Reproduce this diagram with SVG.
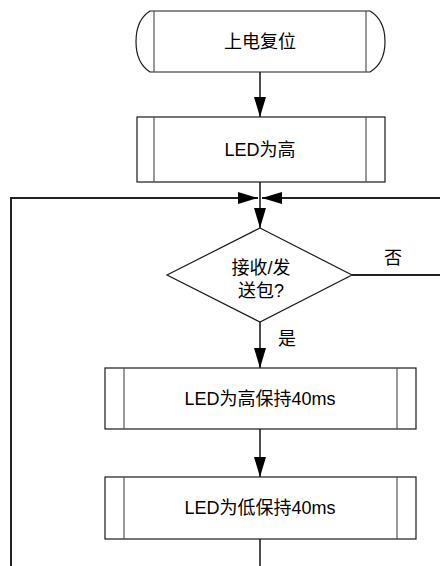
<svg xmlns="http://www.w3.org/2000/svg" width="440" height="566" viewBox="0 0 440 566">
<style>
.box{fill:#fff;stroke:#1a1a1a;stroke-width:1.2}
.inner{stroke:#555;stroke-width:1.2;fill:none}
.lbl{font-family:"Liberation Sans","Noto Sans CJK SC",sans-serif;font-size:18px;fill:#000;text-anchor:middle}
.con{stroke:#111;stroke-width:1.5;fill:none}
.loop{stroke:#222;stroke-width:2;fill:none}
</style>
<defs>
<marker id="ah" markerUnits="userSpaceOnUse" markerWidth="20" markerHeight="12" refX="20" refY="6" orient="auto">
<path d="M0,0 L20,6 L0,12 Z" fill="#000"/>
</marker>
</defs>
<rect width="440" height="566" fill="#fff"/>
<g id="connectors">
<line class="con" x1="260" y1="72" x2="260" y2="117" marker-end="url(#ah)"/>
<line class="con" x1="260" y1="182" x2="260" y2="228" marker-end="url(#ah)"/>
<polyline class="loop" points="11,566 11,198 258,198" marker-end="url(#ah)"/>
<polyline class="loop" points="352,275 440,275"/>
<polyline class="loop" points="440,198 262,198" marker-end="url(#ah)"/>
<line class="con" x1="260" y1="322" x2="260" y2="368" marker-end="url(#ah)"/>
<line class="con" x1="260" y1="429" x2="260" y2="477" marker-end="url(#ah)"/>
<line class="con" x1="260" y1="539" x2="260" y2="566"/>
<text class="lbl" x="393" y="264">否</text>
<text class="lbl" x="287" y="345">是</text>
</g>
<g id="start">
<path class="box" d="M150,11 H370 Q385,20 385,41.5 Q385,63 370,72 H150 Q136,63 136,41.5 Q136,20 150,11 Z"/>
<line class="inner" x1="154" y1="11" x2="154" y2="72"/>
<line class="inner" x1="366" y1="11" x2="366" y2="72"/>
<text class="lbl" x="260" y="48">上电复位</text>
</g>
<g id="led-high">
<rect class="box" x="137" y="117" width="248" height="65"/>
<line class="inner" x1="154" y1="117" x2="154" y2="182"/>
<line class="inner" x1="366" y1="117" x2="366" y2="182"/>
<text class="lbl" x="260" y="156">LED为高</text>
</g>
<g id="decision">
<polygon class="box" points="260,228 352,275 260,322 167,275"/>
<text class="lbl" x="261" y="274">接收/发</text>
<text class="lbl" x="261" y="297">送包?</text>
</g>
<g id="hold-high">
<rect class="box" x="105" y="368" width="311" height="61"/>
<line class="inner" x1="124" y1="368" x2="124" y2="429"/>
<line class="inner" x1="397" y1="368" x2="397" y2="429"/>
<text class="lbl" x="260" y="405">LED为高保持40ms</text>
</g>
<g id="hold-low">
<rect class="box" x="105" y="477" width="311" height="62"/>
<line class="inner" x1="124" y1="477" x2="124" y2="539"/>
<line class="inner" x1="397" y1="477" x2="397" y2="539"/>
<text class="lbl" x="260" y="514">LED为低保持40ms</text>
</g>
</svg>
